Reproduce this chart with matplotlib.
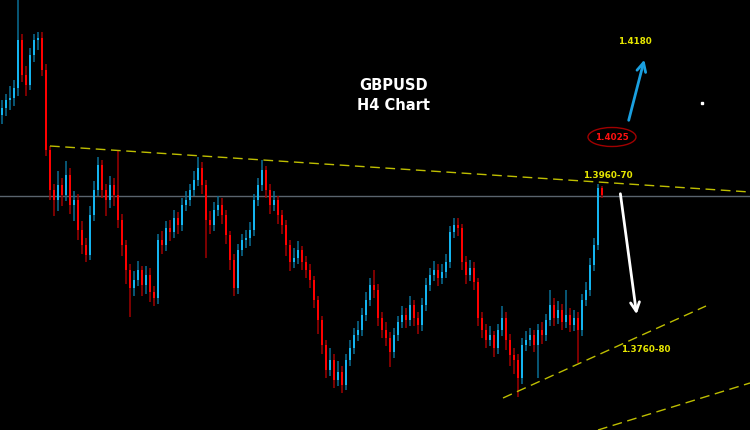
import numpy as np
import matplotlib.pyplot as plt
from matplotlib.patches import Ellipse

# H4 candles, one per bar, open = previous close
first_open = 1.4031
closes = [1.4038, 1.4046, 1.4048, 1.4058, 1.4106, 1.4071, 1.4061, 1.4091, 1.4106, 1.4108,
          1.4076, 1.3996, 1.3956, 1.3946, 1.3961, 1.3951, 1.3971, 1.3941, 1.3946, 1.3916,
          1.3901, 1.3891, 1.3931, 1.3956, 1.3981, 1.3956, 1.3946, 1.3961, 1.3951, 1.3926,
          1.3901, 1.3876, 1.3858, 1.3866, 1.3876, 1.3861, 1.3871, 1.3854, 1.3848, 1.3906,
          1.3901, 1.3918, 1.3914, 1.3928, 1.3921, 1.3941, 1.3946, 1.3956, 1.3966, 1.3978,
          1.3961, 1.3926, 1.3921, 1.3936, 1.3941, 1.3931, 1.3911, 1.3886, 1.3858, 1.3896,
          1.3906, 1.3908, 1.3916, 1.3946, 1.3961, 1.3976, 1.3956, 1.3941, 1.3946, 1.3931,
          1.3921, 1.3901, 1.3884, 1.3888, 1.3896, 1.3884, 1.3876, 1.3866, 1.3846, 1.3826,
          1.3801, 1.3776, 1.3786, 1.3766, 1.3774, 1.3761, 1.3786, 1.3798, 1.3811, 1.3816,
          1.3831, 1.3846, 1.3861, 1.3856, 1.3828, 1.3816, 1.3808, 1.3794, 1.3811, 1.3824,
          1.3831, 1.3826, 1.3841, 1.3828, 1.3821, 1.3841, 1.3861, 1.3871, 1.3876, 1.3868,
          1.3874, 1.3884, 1.3914, 1.3921, 1.3918, 1.3884, 1.3871, 1.3878, 1.3864, 1.3828,
          1.3816, 1.3806, 1.3811, 1.3798, 1.3816, 1.3828, 1.3806, 1.3791, 1.3786, 1.3768,
          1.3801, 1.3806, 1.3811, 1.3801, 1.3816, 1.3811, 1.3826, 1.3841, 1.3828, 1.3836,
          1.3824, 1.3831, 1.3821, 1.3828, 1.3816, 1.3846, 1.3856, 1.3881, 1.3901, 1.3958, 1.3951]
highs = [1.4046, 1.4052, 1.4060, 1.4066, 1.4146, 1.4112, 1.4080, 1.4098, 1.4112, 1.4114,
         1.4114, 1.4082, 1.4000, 1.3962, 1.3975, 1.3968, 1.3985, 1.3978, 1.3955, 1.3952,
         1.3925, 1.3908, 1.3940, 1.3965, 1.3989, 1.3986, 1.3962, 1.3970, 1.3968, 1.3996,
         1.3932, 1.3906, 1.3882, 1.3875, 1.3885, 1.3880, 1.3880, 1.3878, 1.3860, 1.3912,
         1.3915, 1.3925, 1.3926, 1.3936, 1.3934, 1.3948, 1.3955, 1.3962, 1.3975, 1.3989,
         1.3984, 1.3966, 1.3935, 1.3944, 1.3950, 1.3948, 1.3936, 1.3915, 1.3892, 1.3902,
         1.3912, 1.3916, 1.3924, 1.3952, 1.3968, 1.3986, 1.3980, 1.3962, 1.3955, 1.3950,
         1.3936, 1.3926, 1.3906, 1.3898, 1.3905, 1.3900, 1.3890, 1.3882, 1.3870, 1.3850,
         1.3830, 1.3806, 1.3798, 1.3792, 1.3785, 1.3780, 1.3792, 1.3806, 1.3818, 1.3825,
         1.3838, 1.3854, 1.3868, 1.3876, 1.3862, 1.3834, 1.3824, 1.3814, 1.3818, 1.3830,
         1.3840, 1.3838, 1.3850, 1.3846, 1.3834, 1.3848, 1.3868, 1.3878, 1.3885, 1.3882,
         1.3882, 1.3892, 1.3920, 1.3928, 1.3928, 1.3922, 1.3890, 1.3886, 1.3884, 1.3868,
         1.3834, 1.3822, 1.3820, 1.3815, 1.3822, 1.3840, 1.3834, 1.3812, 1.3798, 1.3792,
         1.3808, 1.3815, 1.3818, 1.3816, 1.3822, 1.3824, 1.3832, 1.3856, 1.3848, 1.3845,
         1.3842, 1.3856, 1.3838, 1.3836, 1.3834, 1.3852, 1.3864, 1.3888, 1.3908, 1.3962, 1.3960]
lows = [1.4022, 1.4030, 1.4036, 1.4040, 1.4050, 1.4064, 1.4050, 1.4056, 1.4084, 1.4096,
        1.4070, 1.3990, 1.3946, 1.3930, 1.3935, 1.3940, 1.3945, 1.3932, 1.3925, 1.3906,
        1.3892, 1.3884, 1.3886, 1.3925, 1.3950, 1.3948, 1.3930, 1.3938, 1.3940, 1.3918,
        1.3890, 1.3862, 1.3829, 1.3850, 1.3860, 1.3850, 1.3852, 1.3844, 1.3840, 1.3842,
        1.3892, 1.3895, 1.3905, 1.3908, 1.3912, 1.3915, 1.3935, 1.3940, 1.3950, 1.3960,
        1.3952, 1.3888, 1.3912, 1.3915, 1.3930, 1.3922, 1.3902, 1.3876, 1.3850, 1.3852,
        1.3890, 1.3898, 1.3900, 1.3910, 1.3940, 1.3955, 1.3948, 1.3932, 1.3935, 1.3922,
        1.3912, 1.3890, 1.3875, 1.3878, 1.3882, 1.3876, 1.3868, 1.3858, 1.3838, 1.3812,
        1.3792, 1.3768, 1.3770, 1.3758, 1.3760, 1.3753, 1.3756, 1.3780, 1.3792, 1.3805,
        1.3810, 1.3825, 1.3840, 1.3848, 1.3820, 1.3808, 1.3800, 1.3779, 1.3788, 1.3805,
        1.3818, 1.3818, 1.3820, 1.3820, 1.3812, 1.3815, 1.3835, 1.3855, 1.3865, 1.3860,
        1.3862, 1.3868, 1.3878, 1.3908, 1.3910, 1.3876, 1.3862, 1.3865, 1.3856, 1.3820,
        1.3808, 1.3798, 1.3800, 1.3789, 1.3792, 1.3810, 1.3796, 1.3780, 1.3772, 1.3749,
        1.3762, 1.3795, 1.3800, 1.3794, 1.3768, 1.3802, 1.3805, 1.3820, 1.3820, 1.3822,
        1.3816, 1.3818, 1.3814, 1.3815, 1.3783, 1.3810, 1.3840, 1.3850, 1.3875, 1.3896, 1.3948]

# drawn levels (bar index, price)
resistance = [(12, 1.4000), (187, 1.3954)]
support = [(125.25, 1.3748), (176, 1.3840)]
support2 = [(149, 1.3716), (187, 1.3763)]
grey_level = 1.3950

closes = np.array(closes)
highs = np.array(highs)
lows = np.array(lows)
opens = np.concatenate([[first_open], closes[:-1]])
x = np.arange(len(closes))

BULL = '#14B4F0'
BEAR = '#FF0000'
YELLOW = '#E6E600'

fig = plt.figure(figsize=(7.5, 4.3), dpi=100, facecolor='black')
ax = fig.add_axes([0, 0, 1, 1])
ax.set_facecolor('black')
ax.set_xlim(-0.5, 187)
ax.set_ylim(1.3716, 1.4146)
ax.axis('off')

ax.axhline(grey_level, color='#5A646E', lw=1, zorder=1)

up = closes >= opens
colors = np.where(up, BULL, BEAR)
wick_colors = np.where(up, '#0A6E96', '#A00000')
ax.vlines(x, lows, highs, colors=wick_colors, lw=1.1, zorder=2)
body = np.maximum(np.abs(closes - opens), 0.00015)
ax.bar(x, body, bottom=np.minimum(opens, closes), width=0.62, color=colors,
       linewidth=0, zorder=3)

for line in (resistance, support, support2):
    xs, ys = zip(*line)
    ax.plot(xs, ys, color='#BEBE00', lw=1, dashes=(7, 4), zorder=4)

# labels and arrows
ax.text(98, 1.4061, 'GBPUSD', color='white', fontsize=10.5, fontweight='bold',
        ha='center', va='center')
ax.text(97.9, 1.4041, 'H4 Chart', color='white', fontsize=10.5, fontweight='bold',
        ha='center', va='center')

ax.text(158.2, 1.4104, '1.4180', color=YELLOW, fontsize=6.3, fontweight='bold',
        ha='center', va='center')
ax.text(151.5, 1.3971, '1.3960-70', color=YELLOW, fontsize=6.3, fontweight='bold',
        ha='center', va='center')
ax.text(161, 1.3797, '1.3760-80', color=YELLOW, fontsize=6.3, fontweight='bold',
        ha='center', va='center')

ax.add_patch(Ellipse((152.5, 1.4009), 12, 0.0019, fill=False, ec='#A00000', lw=1, zorder=5))
ax.text(152.5, 1.4009, '1.4025', color='#FF1010', fontsize=6.3, fontweight='bold',
        ha='center', va='center')

ax.annotate('', xy=(160.75, 1.4089), xytext=(156.5, 1.4023),
            arrowprops=dict(arrowstyle='->', color='#1AA0E0', lw=2, mutation_scale=16))
ax.annotate('', xy=(158.75, 1.3829), xytext=(154.5, 1.3955),
            arrowprops=dict(arrowstyle='->', color='white', lw=2, mutation_scale=16))

ax.plot([175], [1.4043], marker='s', ms=1.5, color='white')

fig.savefig('out.png', dpi=100, facecolor='black')
